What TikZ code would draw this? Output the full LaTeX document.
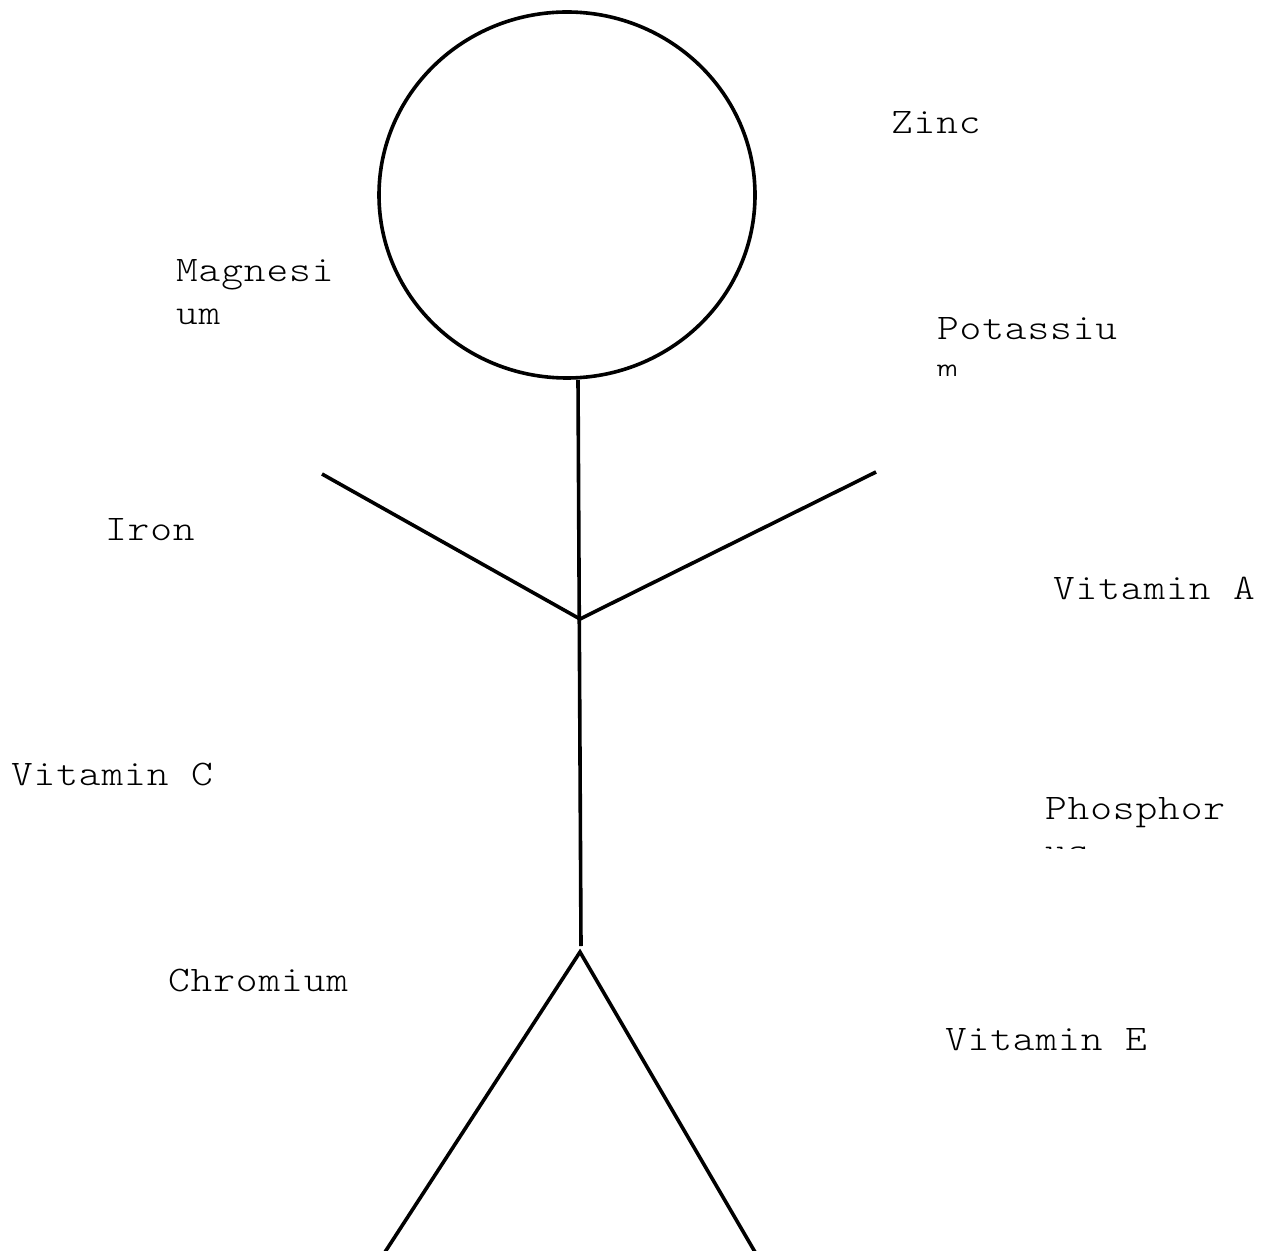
\documentclass[tikz,border=0pt]{standalone}
\usepackage{fontspec}
\newfontfamily\lblfont[FakeStretch=1.15,LetterSpace=2.5]{lmmonolt10-regular.otf}
\begin{document}
\begin{tikzpicture}[x=0.5pt,y=-0.5pt,
  limb/.style={line width=1.8pt, black},
  lbl/.style={anchor=base west, inner sep=0pt, outer sep=0pt, font=\lblfont\fontsize{18}{20}\selectfont}]
\useasboundingbox (0,0) rectangle (1269,1251);
\fill[white] (0,0) rectangle (1269,1251);
% head
\coordinate (hc) at (567,195);
\draw[limb] (hc) ellipse [x radius=94pt, y radius=91.5pt];
% body
\coordinate (neck) at (578,380);
\coordinate (hip) at (581,946);
\coordinate (mid) at (580,619);
\coordinate (lhand) at (322,474);
\coordinate (rhand) at (876,472);
\coordinate (crotch) at (580,952);
\coordinate (lfoot) at (385,1252);
\coordinate (rfoot) at (755,1252);
\draw[limb] (neck) -- (hip);
\draw[limb] (lhand) -- (mid) -- (rhand);
\draw[limb] (lfoot) -- (crotch) -- (rfoot);
% labels
\node[lbl] (zinc) at (891,134) {Zinc};
\node[lbl] (mag1) at (176,282) {Magnesi};
\node[lbl] (mag2) at (176,325) {um};
\node[lbl] (pot1) at (937,340) {Potassiu};
\begin{scope}
  \clip (900,345) rectangle (1150,376);
  \node[lbl] (pot2) at (937,381) {m};
\end{scope}
\node[lbl] (iron) at (105,540) {Iron};
\node[lbl] (vita) at (1053,599) {Vitamin A};
\node[lbl] (vitc) at (11,785) {Vitamin C};
\node[lbl] (pho1) at (1045,819) {Phosphor};
\begin{scope}
  \clip (1000,825) rectangle (1260,848);
  \node[lbl] (pho2) at (1045,862) {us};
\end{scope}
\node[lbl] (chro) at (168,991) {Chromium};
\node[lbl] (vite) at (945,1050) {Vitamin E};
\end{tikzpicture}
\end{document}
